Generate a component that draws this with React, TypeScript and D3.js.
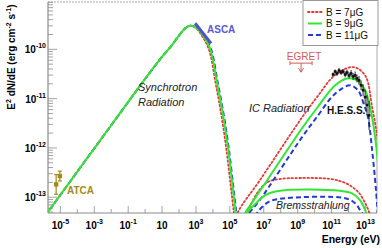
import * as React from 'react';
import * as d3 from 'd3';

// values are log10(E / eV) and log10(E^2 dN/dE / erg cm^-2 s^-1)
const xTickExps = [-5, -3, -1, 1, 3, 5, 7, 9, 11, 13];
const yTickExps = [-13, -12, -11, -10];

const synch9 = [[-5.9, -13.38], [-4, -12.48], [-2, -11.54], [0, -10.6], [1, -10.15], [1.5, -9.95], [2, -9.72], [2.35, -9.58], [2.65, -9.52], [3.0, -9.56], [3.42, -9.72], [3.83, -9.98], [4.24, -10.67], [4.6, -11.34], [4.89, -12.0], [5.13, -12.69], [5.31, -13.22], [5.4, -13.5]];
const synch7 = [[-5.9, -13.38], [-4, -12.48], [-2, -11.54], [0, -10.6], [1, -10.15], [1.5, -9.95], [2, -9.72], [2.35, -9.58], [2.62, -9.52], [2.96, -9.56], [3.36, -9.73], [3.76, -10.0], [4.16, -10.69], [4.51, -11.36], [4.79, -12.02], [5.03, -12.71], [5.21, -13.24], [5.3, -13.5]];
const synch11 = [[-5.9, -13.38], [-4, -12.48], [-2, -11.54], [0, -10.6], [1, -10.15], [1.5, -9.95], [2, -9.72], [2.35, -9.58], [2.66, -9.52], [3.02, -9.56], [3.45, -9.72], [3.87, -9.98], [4.28, -10.67], [4.64, -11.34], [4.93, -12.0], [5.17, -12.69], [5.35, -13.22], [5.44, -13.5]];

const ic9 = [[5.6, -13.5], [5.9, -13.32], [6.78, -12.87], [9.26, -11.6], [10.14, -11.19], [11.21, -10.73], [11.91, -10.59], [12.5, -10.63], [12.98, -10.83], [13.27, -11.17], [13.57, -11.78], [13.8, -12.55], [13.9, -13.0]];
const ic7 = [[5.2, -13.62], [5.48, -13.3], [6.78, -12.65], [9.26, -11.38], [10.14, -10.97], [11.21, -10.52], [12.27, -10.36], [12.98, -10.53], [13.39, -11.17], [13.68, -11.74], [13.85, -12.3]];
const ic11 = [[5.8, -13.62], [6.07, -13.36], [6.78, -13.05], [9.26, -11.78], [10.14, -11.37], [11.21, -10.9], [12.09, -10.73], [12.56, -10.83], [12.92, -11.13], [13.15, -11.38], [13.39, -12.04], [13.62, -12.85], [13.74, -13.4]];

const brems7 = [[6.0, -13.45], [6.19, -13.2], [6.66, -12.89], [7.25, -12.69], [7.96, -12.63], [9.14, -12.61], [10.91, -12.63], [11.8, -12.71], [12.56, -12.89], [13.04, -13.16], [13.27, -13.36], [13.35, -13.5]];
const brems9 = [[5.85, -13.5], [6.01, -13.32], [6.49, -13.14], [7.08, -12.96], [7.96, -12.87], [11.5, -12.87], [12.21, -12.92], [12.68, -13.06], [12.98, -13.26], [13.09, -13.36], [13.15, -13.5]];
const brems11 = [[6.4, -13.55], [6.55, -13.36], [6.9, -13.2], [7.37, -13.08], [8.26, -13.02], [11.8, -13.02], [12.39, -13.12], [12.68, -13.26], [12.86, -13.36], [12.95, -13.5]];

const ascaE = [2.95, 3.89];
const ascaF = [-9.47, -9.88];

const atcaE = [-5.25, -5.03];
const atcaF = [-12.74, -12.57];
const atcaErr = [0.2, 0.1];

const egretE = [8.55, 9.85];
const egretF = -10.28;

const hessE = [11.09, 11.21, 11.32, 11.44, 11.56, 11.68, 11.8, 11.91, 12.03, 12.15, 12.27, 12.39, 12.5, 12.62, 12.74, 12.86, 12.98, 13.09, 13.21];
const hessF = [-10.51, -10.45, -10.49, -10.43, -10.47, -10.45, -10.51, -10.47, -10.53, -10.49, -10.55, -10.53, -10.59, -10.63, -10.73, -10.83, -10.97, -11.13, -11.34];
const hessErr = [0.04, 0.04, 0.05, 0.05, 0.05, 0.05, 0.06, 0.06, 0.06, 0.07, 0.07, 0.08, 0.08, 0.09, 0.1, 0.12, 0.15, 0.2, 0.3];

const legendLabels = ['B = 7\u03bcG', 'B = 9\u03bcG', 'B = 11\u03bcG'];

const FONT = '"Liberation Sans", Arial, sans-serif';
const RED = '#e23a3a';
const GREEN = '#33e633';
const BLUE = '#2538d8';
const OLIVE = '#a08c1c';
const AXIS = '#8c8c8c';

const styles = [
    { stroke: RED, dash: '1.6,2.4', width: 1.8, cap: 'round' },
    { stroke: GREEN, dash: null, width: 2, cap: 'butt' },
    { stroke: BLUE, dash: '5,3', width: 2, cap: 'butt' },
];

export default function App() {
    const left = 48, right = 377, top = 2, bottom = 213;

    const x = d3.scaleLog().domain([10 ** -5.73, 10 ** 13.68]).range([left, right]);
    const y = d3.scaleLog().domain([10 ** -13.32, 10 ** -9.04]).range([bottom, top]);
    const px = (e: number) => x(10 ** e);
    const py = (f: number) => y(10 ** f);

    const line = d3.line<number[]>()
        .x(d => px(d[0]))
        .y(d => py(d[1]))
        .curve(d3.curveCatmullRom.alpha(0.5));

    // drawn in order: red, blue, green on top
    const series = [
        { data: [synch7, ic7, brems7], s: styles[0] },
        { data: [synch11, ic11, brems11], s: styles[2] },
        { data: [synch9, ic9, brems9], s: styles[1] },
    ];

    // y ticks (log minor)
    const yTicks: { v: number; major: boolean }[] = [];
    for (let d = -14; d <= -9; d++) {
        for (let k = 1; k <= 9; k++) {
            const v = k * 10 ** d;
            if (v >= y.domain()[0] && v <= y.domain()[1]) yTicks.push({ v, major: k === 1 });
        }
    }
    const xTicks: { v: number; major: boolean }[] = [];
    for (let d = -5; d <= 13; d++) xTicks.push({ v: 10 ** d, major: xTickExps.includes(d) });

    const egX0 = px(egretE[0]), egX1 = px(egretE[1]), egY = py(egretF);
    const egMid = (egX0 + egX1) / 2;

    return (
        <svg width={382} height={248} style={{ position: 'absolute', left: 0, top: 0, background: '#fff' }}
            fontFamily={FONT}>
            <defs>
                <clipPath id="plot">
                    <rect x={left} y={top} width={right - left} height={bottom - top} />
                </clipPath>
            </defs>

            {/* frame */}
            <line x1={left} x2={right} y1={top} y2={top} stroke="#aaa" strokeWidth={1} strokeDasharray="2,1" />
            <line x1={right} x2={right} y1={top} y2={bottom} stroke="#aaa" strokeWidth={1} />
            <line x1={left} x2={left} y1={top} y2={bottom} stroke={AXIS} strokeWidth={1.2} />
            <line x1={left} x2={right} y1={bottom} y2={bottom} stroke={AXIS} strokeWidth={1.2} />

            {yTicks.map((t, i) => (
                <line key={'yt' + i} x1={left} x2={left + (t.major ? 9 : 5)} y1={y(t.v)} y2={y(t.v)}
                    stroke={AXIS} strokeWidth={0.8} />
            ))}
            {xTicks.map((t, i) => (
                <line key={'xt' + i} x1={x(t.v)} x2={x(t.v)} y1={bottom} y2={bottom - (t.major ? 7 : 4)}
                    stroke={AXIS} strokeWidth={0.8} />
            ))}

            {/* tick labels */}
            {yTickExps.map(e => (
                <text key={'yl' + e} x={46} y={py(e) + 4} textAnchor="end" fontSize={10} fontWeight="bold">
                    10<tspan dy={-5} fontSize={7}>{e}</tspan>
                </text>
            ))}
            {xTickExps.map(e => (
                <text key={'xl' + e} x={px(e)} y={229} textAnchor="middle" fontSize={10} fontWeight="bold">
                    10{e !== 1 ? <tspan dy={-5} fontSize={7}>{e}</tspan> : null}
                </text>
            ))}

            {/* axis titles */}
            <text transform="translate(15,57) rotate(-90)" textAnchor="middle" fontSize={10} fontWeight="bold">
                E<tspan dy={-4} fontSize={7}>2</tspan><tspan dy={4}> dN/dE (erg cm</tspan>
                <tspan dy={-4} fontSize={7}>-2</tspan><tspan dy={4}> s</tspan>
                <tspan dy={-4} fontSize={7}>-1</tspan><tspan dy={4}>)</tspan>
            </text>
            <text x={380} y={243} textAnchor="end" fontSize={10.5} fontWeight="bold">Energy (eV)</text>

            {/* model curves */}
            <g clipPath="url(#plot)">
                {series.map((ser, i) => ser.data.map((d, j) => (
                    <path key={'c' + i + '_' + j} d={line(d) || ''} fill="none" stroke={ser.s.stroke}
                        strokeWidth={ser.s.width} strokeDasharray={ser.s.dash || undefined}
                        strokeLinecap={ser.s.cap as any} />
                )))}
            </g>

            {/* ASCA */}
            <line x1={px(ascaE[0])} y1={py(ascaF[0])} x2={px(ascaE[1])} y2={py(ascaF[1])}
                stroke="#5050c8" strokeWidth={3} />
            <text x={207} y={33} fontSize={10} fontWeight="bold" fill="#5a5ad2">ASCA</text>

            {/* ATCA */}
            {atcaE.map((e, i) => {
                const cx = px(e), cy = py(atcaF[i]);
                const y0 = py(atcaF[i] + atcaErr[i]), y1 = py(atcaF[i] - atcaErr[i]);
                return (
                    <g key={'at' + i} stroke={OLIVE} strokeWidth={1.2}>
                        <line x1={cx} x2={cx} y1={y0} y2={y1} />
                        <line x1={cx - 2} x2={cx + 2} y1={y0} y2={y0} />
                        <line x1={cx - 2} x2={cx + 2} y1={y1} y2={y1} />
                        <rect x={cx - 2.2} y={cy - 2.2} width={4.4} height={4.4} fill={OLIVE} stroke="none" />
                    </g>
                );
            })}
            <text x={67} y={194} fontSize={10} fontWeight="bold" fill={OLIVE}>ATCA</text>

            {/* EGRET upper limit */}
            <g stroke="#d45a5a" strokeWidth={1} fill="none">
                <line x1={egX0} x2={egX1} y1={egY} y2={egY} />
                <line x1={egX0} x2={egX0} y1={egY - 2} y2={egY + 2} />
                <line x1={egX1} x2={egX1} y1={egY - 2} y2={egY + 2} />
                <line x1={egMid} x2={egMid} y1={egY} y2={egY + 9} />
                <path d={`M${egMid - 2.5},${egY + 5} L${egMid},${egY + 9} L${egMid + 2.5},${egY + 5}`} />
            </g>
            <text x={egMid + 3} y={60} textAnchor="middle" fontSize={10} fill="#d45a5a">EGRET</text>

            {/* H.E.S.S. */}
            {hessE.map((e, i) => {
                const cx = px(e);
                return (
                    <g key={'h' + i} stroke="#111" strokeWidth={0.9}>
                        <line x1={cx} x2={cx} y1={py(hessF[i] + hessErr[i])} y2={py(hessF[i] - hessErr[i])} />
                        <line x1={cx - 1.2} x2={cx + 1.2} y1={py(hessF[i])} y2={py(hessF[i])} />
                        <rect x={cx - 1.3} y={py(hessF[i]) - 1.3} width={2.6} height={2.6} fill="#111" stroke="none" />
                    </g>
                );
            })}

            {/* annotations */}
            <g fontSize={11} fontStyle="italic" fill="#222">
                <text x={138} y={91}>Synchrotron</text>
                <text x={138} y={106}>Radiation</text>
                <text x={249} y={112}>IC Radiation</text>
                <text x={276} y={209} fontSize={10.5}>Bremsstrahlung</text>
            </g>
            <text x={327} y={114} fontSize={10} fontWeight="bold" fill="#111">H.E.S.S.</text>

            {/* legend */}
            <rect x={303} y={0.5} width={75} height={45} fill="#fff" stroke="#999" strokeWidth={1} />
            {legendLabels.map((lab, i) => {
                const s = styles[i];
                const ly = 12 + i * 11.5;
                return (
                    <g key={'lg' + i}>
                        <line x1={308} x2={322} y1={ly} y2={ly} stroke={s.stroke} strokeWidth={s.width}
                            strokeDasharray={s.dash || undefined} strokeLinecap={s.cap as any} />
                        <text x={326} y={ly + 3.5} fontSize={10} fill="#111">{lab}</text>
                    </g>
                );
            })}
        </svg>
    );
}
